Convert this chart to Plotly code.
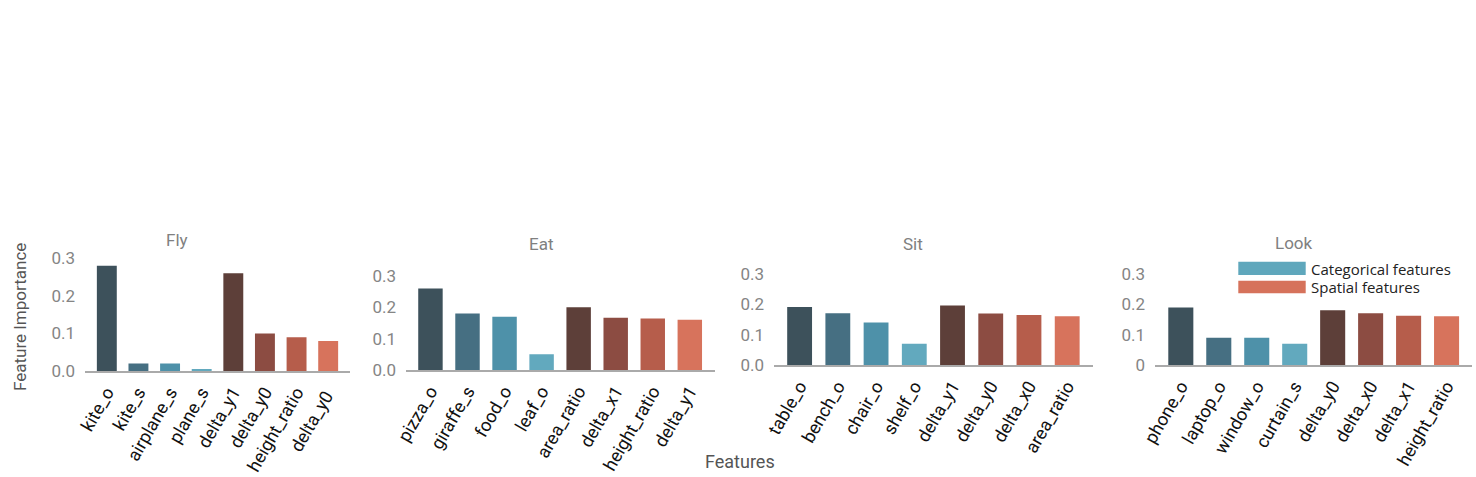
import plotly.graph_objects as go

W, H = 1476, 477

# ---------------- data ----------------
fly_features = ["kite_o", "kite_s", "airplane_s", "plane_s", "delta_y1", "delta_y0", "height_ratio", "delta_y0 "]
fly_values = [0.28, 0.02, 0.02, 0.005, 0.26, 0.10, 0.09, 0.08]

eat_features = ["pizza_o", "giraffe_s", "food_o", "leaf_o", "area_ratio", "delta_x1", "height_ratio", "delta_y1"]
eat_values = [0.26, 0.18, 0.17, 0.05, 0.20, 0.167, 0.164, 0.16]

sit_features = ["table_o", "bench_o", "chair_o", "shelf_o", "delta_y1", "delta_y0", "delta_x0", "area_ratio"]
sit_values = [0.192, 0.171, 0.141, 0.07, 0.197, 0.17, 0.165, 0.161]

look_features = ["phone_o", "laptop_o", "window_o", "curtain_s", "delta_y0", "delta_x0", "delta_x1", "height_ratio"]
look_values = [0.19, 0.09, 0.09, 0.07, 0.181, 0.171, 0.163, 0.161]

panel_titles = ["Fly", "Eat", "Sit", "Look"]
y_tickvals = [0, 0.1, 0.2, 0.3]
y_ticktext_default = ["0.0", "0.1", "0.2", "0.3"]
y_ticktext_look = ["0", "0.1", "0.2", "0.3"]

legend_labels = ["Categorical features", "Spatial features"]
legend_colors = ["#5fa7bc", "#d6725b"]

bar_colors = ["#3d515b", "#466f82", "#4e91a9", "#62a9be",
              "#5d3f39", "#8c4c42", "#b65d4b", "#d7735c"]

# ---------------- layout helpers ----------------
def fx(px):
    return px / W

def fy(py):
    return (H - py) / H

YTOP = 0.305
# (x_left_px, x_right_px, zero_px, px_per_unit, xrange, bar width)
panels = [
    (85, 350, 371, 376.0, [-0.69, 7.69], 0.63),
    (406, 715, 370, 313.3, [-0.66, 7.68], 0.66),
    (774, 1093, 365, 302.3, [-0.67, 7.675], 0.65),
    (1155, 1472, 365, 302.3, [-0.68, 7.67], 0.66),
]
features = [fly_features, eat_features, sit_features, look_features]
values = [fly_values, eat_values, sit_values, look_values]
title_pos = [(176.7, 240), (541, 244), (913, 244), (1294, 243)]

fig = go.Figure()
layout = dict(
    width=W, height=H, autosize=False,
    margin=dict(l=0, r=0, t=0, b=0, pad=0),
    paper_bgcolor="white", plot_bgcolor="white",
    font=dict(family="Roboto", color="#222"),
    showlegend=False,
)
annotations = []
shapes = []

for i, (xl, xr, y0, ppu, xr_range, bw) in enumerate(panels):
    n = "" if i == 0 else str(i + 1)
    fig.add_trace(go.Bar(
        x=list(range(len(features[i]))), y=values[i],
        marker=dict(color=bar_colors, line=dict(width=0)),
        width=bw,
        xaxis="x" + n, yaxis="y" + n,
        hoverinfo="y",
    ))
    ytop_px = y0 - YTOP * ppu
    layout["xaxis" + n] = dict(
        domain=[fx(xl), fx(xr)], anchor="y" + n,
        range=xr_range, automargin=False,
        tickmode="array", tickvals=list(range(len(features[i]))), ticktext=features[i],
        tickangle=-60, tickfont=dict(size=18, color="#111"),
        ticklabelstandoff=2,
        showline=True, linecolor="#aaaaaa", linewidth=1.5,
        showgrid=False, zeroline=False, ticks="",
    )
    layout["yaxis" + n] = dict(
        domain=[fy(y0), fy(ytop_px)], anchor="x" + n,
        range=[0, YTOP], automargin=False,
        tickmode="array", tickvals=y_tickvals,
        ticktext=y_ticktext_look if i == 3 else y_ticktext_default,
        tickfont=dict(size=17, color="#858585"),
        showline=False, showgrid=False, zeroline=False, ticks="",
        ticklabelstandoff=9,
    )
    tx, ty = title_pos[i]
    annotations.append(dict(
        text=panel_titles[i], x=fx(tx), y=fy(ty), xref="paper", yref="paper",
        showarrow=False, xanchor="center", yanchor="middle",
        font=dict(size=17, color="#808080"),
    ))

# axis titles
annotations.append(dict(
    text="Features", x=fx(740), y=fy(461), xref="paper", yref="paper",
    showarrow=False, xanchor="center", yanchor="middle",
    font=dict(size=18, color="#555"),
))
annotations.append(dict(
    text="Feature Importance", x=fx(19.5), y=fy(317.5), xref="paper", yref="paper",
    showarrow=False, xanchor="center", yanchor="middle", textangle=-90,
    font=dict(size=17, color="#555"),
))

# legend (swatches + labels)
leg_rows = [(261.7, 275.0, 269.0), (280.7, 293.3, 286.7)]
for (ya, yb, yc), lab, col in zip(leg_rows, legend_labels, legend_colors):
    shapes.append(dict(
        type="rect", xref="paper", yref="paper",
        x0=fx(1238.3), x1=fx(1305.7), y0=fy(yb), y1=fy(ya),
        fillcolor=col, line=dict(width=0),
    ))
    annotations.append(dict(
        text=lab, x=fx(1309), y=fy(yc), xref="paper", yref="paper",
        showarrow=False, xanchor="left", yanchor="middle",
        font=dict(size=15, color="#222", family="Open Sans"),
    ))

layout["annotations"] = annotations
layout["shapes"] = shapes
fig.update_layout(**layout)
fig.write_html(
    "out.html",
    config={"displayModeBar": False},
    post_script="document.body.style.margin='0';document.body.style.overflow='hidden';",
)
